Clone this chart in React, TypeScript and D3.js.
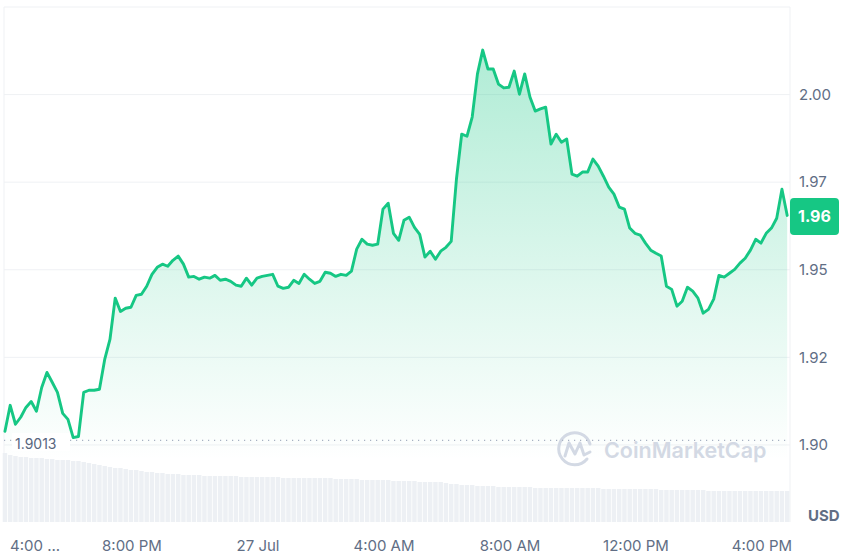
import React from 'react';
import * as d3 from 'd3';

// 10-minute samples, Jul 26 15:58 -> Jul 27 16:48
const startTime = new Date(2024, 6, 26, 15, 58);
const stepMinutes = 10;

const prices = [
  1.9039, 1.9113, 1.9059, 1.9079, 1.9107, 1.9124, 1.9096, 1.9164, 1.9207, 1.9179,
  1.9150, 1.9090, 1.9073, 1.9021, 1.9024, 1.9150, 1.9156, 1.9156, 1.9159, 1.9244,
  1.9301, 1.9419, 1.9381, 1.9390, 1.9393, 1.9427, 1.9430, 1.9453, 1.9487, 1.9507,
  1.9516, 1.9510, 1.9527, 1.9539, 1.9516, 1.9479, 1.9481, 1.9473, 1.9479, 1.9476,
  1.9484, 1.9470, 1.9473, 1.9467, 1.9456, 1.9453, 1.9476, 1.9456, 1.9476, 1.9481,
  1.9484, 1.9487, 1.9453, 1.9447, 1.9450, 1.9470, 1.9461, 1.9487, 1.9473, 1.9461,
  1.9467, 1.9493, 1.9490, 1.9481, 1.9487, 1.9484, 1.9496, 1.9559, 1.9587, 1.9573,
  1.9570, 1.9573, 1.9673, 1.9690, 1.9604, 1.9584, 1.9641, 1.9650, 1.9621, 1.9601,
  1.9536, 1.9553, 1.9530, 1.9553, 1.9564, 1.9581, 1.9759, 1.9887, 1.9881, 1.9936,
  2.0059, 2.0127, 2.0073, 2.0073, 2.0030, 2.0019, 2.0021, 2.0067, 2.0001, 2.0059,
  1.9993, 1.9953, 1.9959, 1.9964, 1.9859, 1.9887, 1.9864, 1.9873, 1.9773, 1.9767,
  1.9779, 1.9779, 1.9816, 1.9796, 1.9767, 1.9736, 1.9716, 1.9679, 1.9673, 1.9619,
  1.9604, 1.9599, 1.9576, 1.9556, 1.9547, 1.9539, 1.9453, 1.9444, 1.9396, 1.9410,
  1.9450, 1.9439, 1.9419, 1.9376, 1.9387, 1.9416, 1.9484, 1.9479, 1.9490, 1.9501,
  1.9519, 1.9533, 1.9556, 1.9587, 1.9576, 1.9604, 1.9619, 1.9647, 1.9730, 1.9655,
];

// volume (M USD) per sample
const volumes = [
  69, 67, 66, 65, 65, 64, 64, 64, 63, 63,
  62, 62, 62, 61, 61, 60, 59, 58, 57, 56,
  55, 54, 54, 53, 52, 52, 51, 50, 50, 49,
  49, 48, 48, 48, 47, 47, 47, 47, 46, 46,
  46, 46, 46, 46, 46, 45, 45, 45, 45, 45,
  45, 45, 45, 44, 44, 44, 44, 44, 44, 44,
  44, 44, 44, 43, 43, 43, 43, 43, 42, 42,
  42, 42, 42, 42, 41, 41, 41, 41, 41, 40,
  40, 40, 40, 40, 39, 38, 38, 37, 37, 37,
  36, 36, 36, 36, 35, 35, 35, 35, 35, 35,
  35, 34, 34, 34, 34, 34, 34, 34, 34, 34,
  34, 34, 34, 34, 33, 33, 33, 33, 33, 33,
  33, 33, 33, 33, 33, 32, 32, 32, 32, 32,
  32, 32, 32, 32, 31, 31, 31, 31, 31, 31,
  31, 31, 31, 31, 31, 31, 31, 31, 31, 31,
];

const yTicks = [1.9, 1.925, 1.95, 1.975, 2.0];
const yTickLabels = ['1.90', '1.92', '1.95', '1.97', '2.00'];

const xTickTimes = [
  new Date(2024, 6, 26, 16), new Date(2024, 6, 26, 20), new Date(2024, 6, 27, 0),
  new Date(2024, 6, 27, 4), new Date(2024, 6, 27, 8), new Date(2024, 6, 27, 12),
  new Date(2024, 6, 27, 16),
];
const xTickLabels = ['4:00 ...', '8:00 PM', '27 Jul', '4:00 AM', '8:00 AM', '12:00 PM', '4:00 PM'];

const openPrice = 1.9013;
const lastPrice = '1.96';

const W = 849;
const H = 555;
const left = 4, right = 790, top = 7, bottom = 522;
const green = '#16c784';
const grid = '#eff1f4';
const textGray = '#616e85';
const font = 'Inter, "Noto Sans", sans-serif';

export default function App() {
  const times = prices.map((_, i) => new Date(startTime.getTime() + i * stepMinutes * 60000));

  const x = d3.scaleTime()
    .domain([new Date(2024, 6, 26, 16), new Date(2024, 6, 27, 16)])
    .range([6, 762]);
  const y = d3.scaleLinear().domain([1.878, 2.025]).range([bottom, top]);
  const yVol = d3.scaleLinear().domain([0, 100]).range([bottom, bottom - 100]);

  const pts = prices.map((p, i) => [times[i], p] as [Date, number]);
  const line = d3.line<[Date, number]>().x(d => x(d[0])).y(d => y(d[1]));
  const area = d3.area<[Date, number]>().x(d => x(d[0])).y0(bottom).y1(d => y(d[1]));

  const step = x(times[1]) - x(times[0]);

  return (
    <svg width={W} height={H} style={{ position: 'absolute', left: 0, top: 0, background: '#fff' }}>
      <defs>
        <linearGradient id="fillGrad" gradientUnits="userSpaceOnUse" x1="0" y1="50" x2="0" y2="460">
          <stop offset="0" stopColor={green} stopOpacity={0.34} />
          <stop offset="0.6" stopColor={green} stopOpacity={0.13} />
          <stop offset="1" stopColor={green} stopOpacity={0.0} />
        </linearGradient>
      </defs>

      {/* frame + grid */}
      <line x1={left} x2={right} y1={top} y2={top} stroke={grid} />
      <line x1={left} x2={left} y1={top} y2={bottom} stroke={grid} />
      <line x1={right} x2={right} y1={top} y2={bottom} stroke={grid} />
      {yTicks.map(t => (
        <line key={t} x1={left} x2={right} y1={y(t)} y2={y(t)} stroke={grid} />
      ))}

      <path d={area(pts) || ''} fill="url(#fillGrad)" />

      {/* volume */}
      {volumes.map((v, i) => (
        <rect key={i} x={x(times[i]) - step / 2 + 0.4} width={step - 0.8}
          y={yVol(v)} height={bottom - yVol(v)} fill="#edf0f4" />
      ))}

      {/* watermark */}
      <g stroke="#d3d9e4" fill="none" strokeWidth={3} strokeLinecap="round" strokeLinejoin="round">
        <path d="M 587 459 A 16 16 0 1 1 590 444" />
        <path d="M 565 456 L 569 443 L 575 454 L 580 443 L 584 455 L 590 452" />
      </g>
      <text x={604} y={458} fontFamily={font} fontSize={21.5} fontWeight={600} fill="#d3d9e4">CoinMarketCap</text>

      {/* open price reference */}
      <line x1={left} x2={right} y1={y(openPrice)} y2={y(openPrice)}
        stroke="#a7b1c2" strokeWidth={1.2} strokeDasharray="1.2 4.8" />
      <rect x={12} y={433} width={58} height={18} fill="#fff" />
      <text x={15} y={449} fontFamily={font} fontSize={14} fill="#58667e">{openPrice}</text>

      <path d={line(pts) || ''} fill="none" stroke={green} strokeWidth={2.9}
        strokeLinejoin="round" strokeLinecap="round" />

      {/* y labels */}
      {yTicks.map((t, i) => (
        <text key={t} x={799} y={y(t)} dy="0.35em" fontFamily={font} fontSize={15} fill={textGray}>
          {yTickLabels[i]}
        </text>
      ))}
      <text x={808} y={521} fontFamily={font} fontSize={15} fontWeight={700} fill={textGray}>USD</text>

      {/* x labels */}
      {xTickTimes.map((t, i) => (
        <text key={i} x={i === 0 ? 10 : x(t)} y={551} textAnchor={i === 0 ? 'start' : 'middle'}
          fontFamily={font} fontSize={15} fill={textGray}>
          {xTickLabels[i]}
        </text>
      ))}

      {/* last price tag */}
      <rect x={790} y={198} width={49} height={37} rx={4} fill={green} />
      <text x={814.5} y={216.5} dy="0.35em" textAnchor="middle" fontFamily={font}
        fontSize={16} fontWeight={700} fill="#fff">{lastPrice}</text>
    </svg>
  );
}
